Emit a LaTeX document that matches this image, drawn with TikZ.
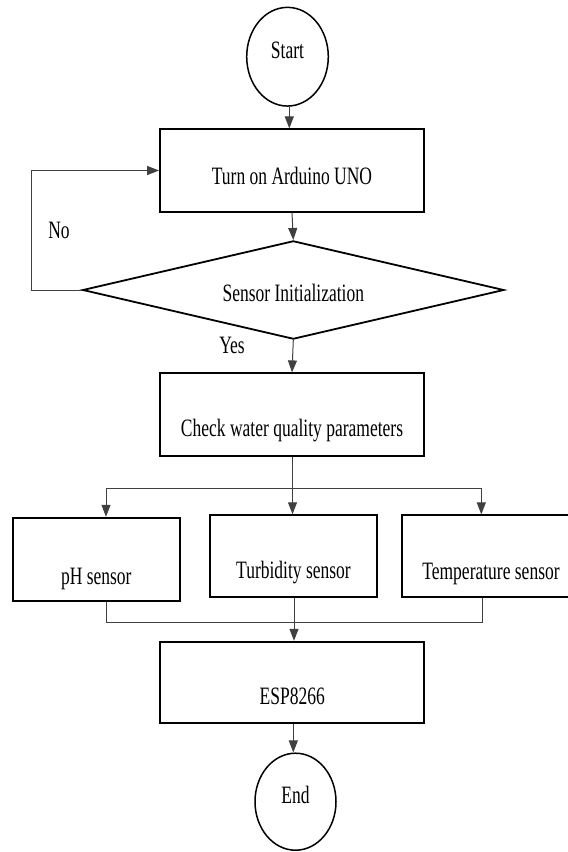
\documentclass[tikz,border=0pt]{standalone}
\usepackage{fontspec}
\setmainfont{Liberation Serif}[FakeStretch=0.7]
\usetikzlibrary{shapes.geometric,arrows.meta}
\begin{document}
\begin{tikzpicture}[x=1pt,y=-1pt,
  box/.style={draw, rectangle, line width=1.8pt, inner sep=0pt},
  term/.style={draw, ellipse, line width=1.5pt, inner sep=0pt},
  txt/.style={font=\fontsize{25}{28}\selectfont, text height=16.5pt, text depth=0pt, inner sep=0pt},
  conn/.style={line width=1pt, draw=black!75},
  arr/.style={conn, -{Triangle[length=12pt,width=9pt]}},
]
\useasboundingbox (0,0) rectangle (568,852);

\node[term, minimum width=81.6pt, minimum height=98.7pt,
  label={[txt,yshift=6.7pt]center:Start}] (start) at (287.5,56.7) {};
\node[box, minimum width=264pt, minimum height=82.4pt,
  label={[txt,yshift=-6pt]center:Turn on Arduino UNO}] (ard) at (292,170.5) {};
\node[draw, diamond, line width=1.8pt, inner sep=0pt,
  minimum width=421.3pt, minimum height=98.3pt,
  label={[txt,yshift=-3pt]center:Sensor Initialization}] (dec) at (293.3,290) {};
\node[box, minimum width=264pt, minimum height=82.4pt,
  label={[txt,yshift=-14pt]center:Check water quality parameters}] (chk) at (292,414.5) {};
\node[box, minimum width=167.3pt, minimum height=83pt,
  label={[txt,yshift=-17.5pt]center:pH sensor}] (ph) at (96.3,559.2) {};
\node[box, minimum width=167pt, minimum height=81.7pt,
  label={[txt,yshift=-14pt]center:Turbidity sensor}] (tur) at (293.5,556) {};
\node[box, minimum width=178pt, minimum height=81.4pt,
  label={[txt,yshift=-15.7pt]center:Temperature sensor}] (tmp) at (491,556) {};
\node[box, minimum width=264.3pt, minimum height=81.6pt,
  label={[txt,yshift=-14pt]center:ESP8266}] (esp) at (292.2,682.5) {};
\node[term, minimum width=81pt, minimum height=97pt,
  label={[txt,yshift=6.7pt]center:End}] (end) at (295.5,801.7) {};

\node[txt] (no) at (59,230) {No};
\node[txt] (yes) at (232,345) {Yes};

\coordinate (loop) at (31.7,290);
\coordinate (bl) at (106,488.3);
\coordinate (bm) at (292.5,488.3);
\coordinate (br) at (481.3,488.3);
\coordinate (ml) at (106,622.5);
\coordinate (mr) at (482,622.5);

\draw[arr] (start.south -| 289.3,0) -- (ard.north -| 289.3,0);
\draw[arr] (ard.south) -- (dec.north);
\draw[arr] (dec.west) -- (loop) |- (ard.west);
\draw[arr] (dec.south) -- (chk.north);
\draw[conn] (chk.south -| bm) -- (bm);
\draw[conn] (bl) -- (br);
\draw[arr] (bl) -- (ph.north -| bl);
\draw[arr] (bm) -- (tur.north -| bm);
\draw[arr] (br) -- (tmp.north -| br);
\draw[conn] (ph.south -| ml) -- (ml) -- (mr) -- (tmp.south -| mr);
\draw[arr] (tur.south -| 294,0) -- (esp.north -| 294,0);
\draw[arr] (esp.south -| 293.3,0) -- (end.north -| 293.3,0);
\end{tikzpicture}
\end{document}
